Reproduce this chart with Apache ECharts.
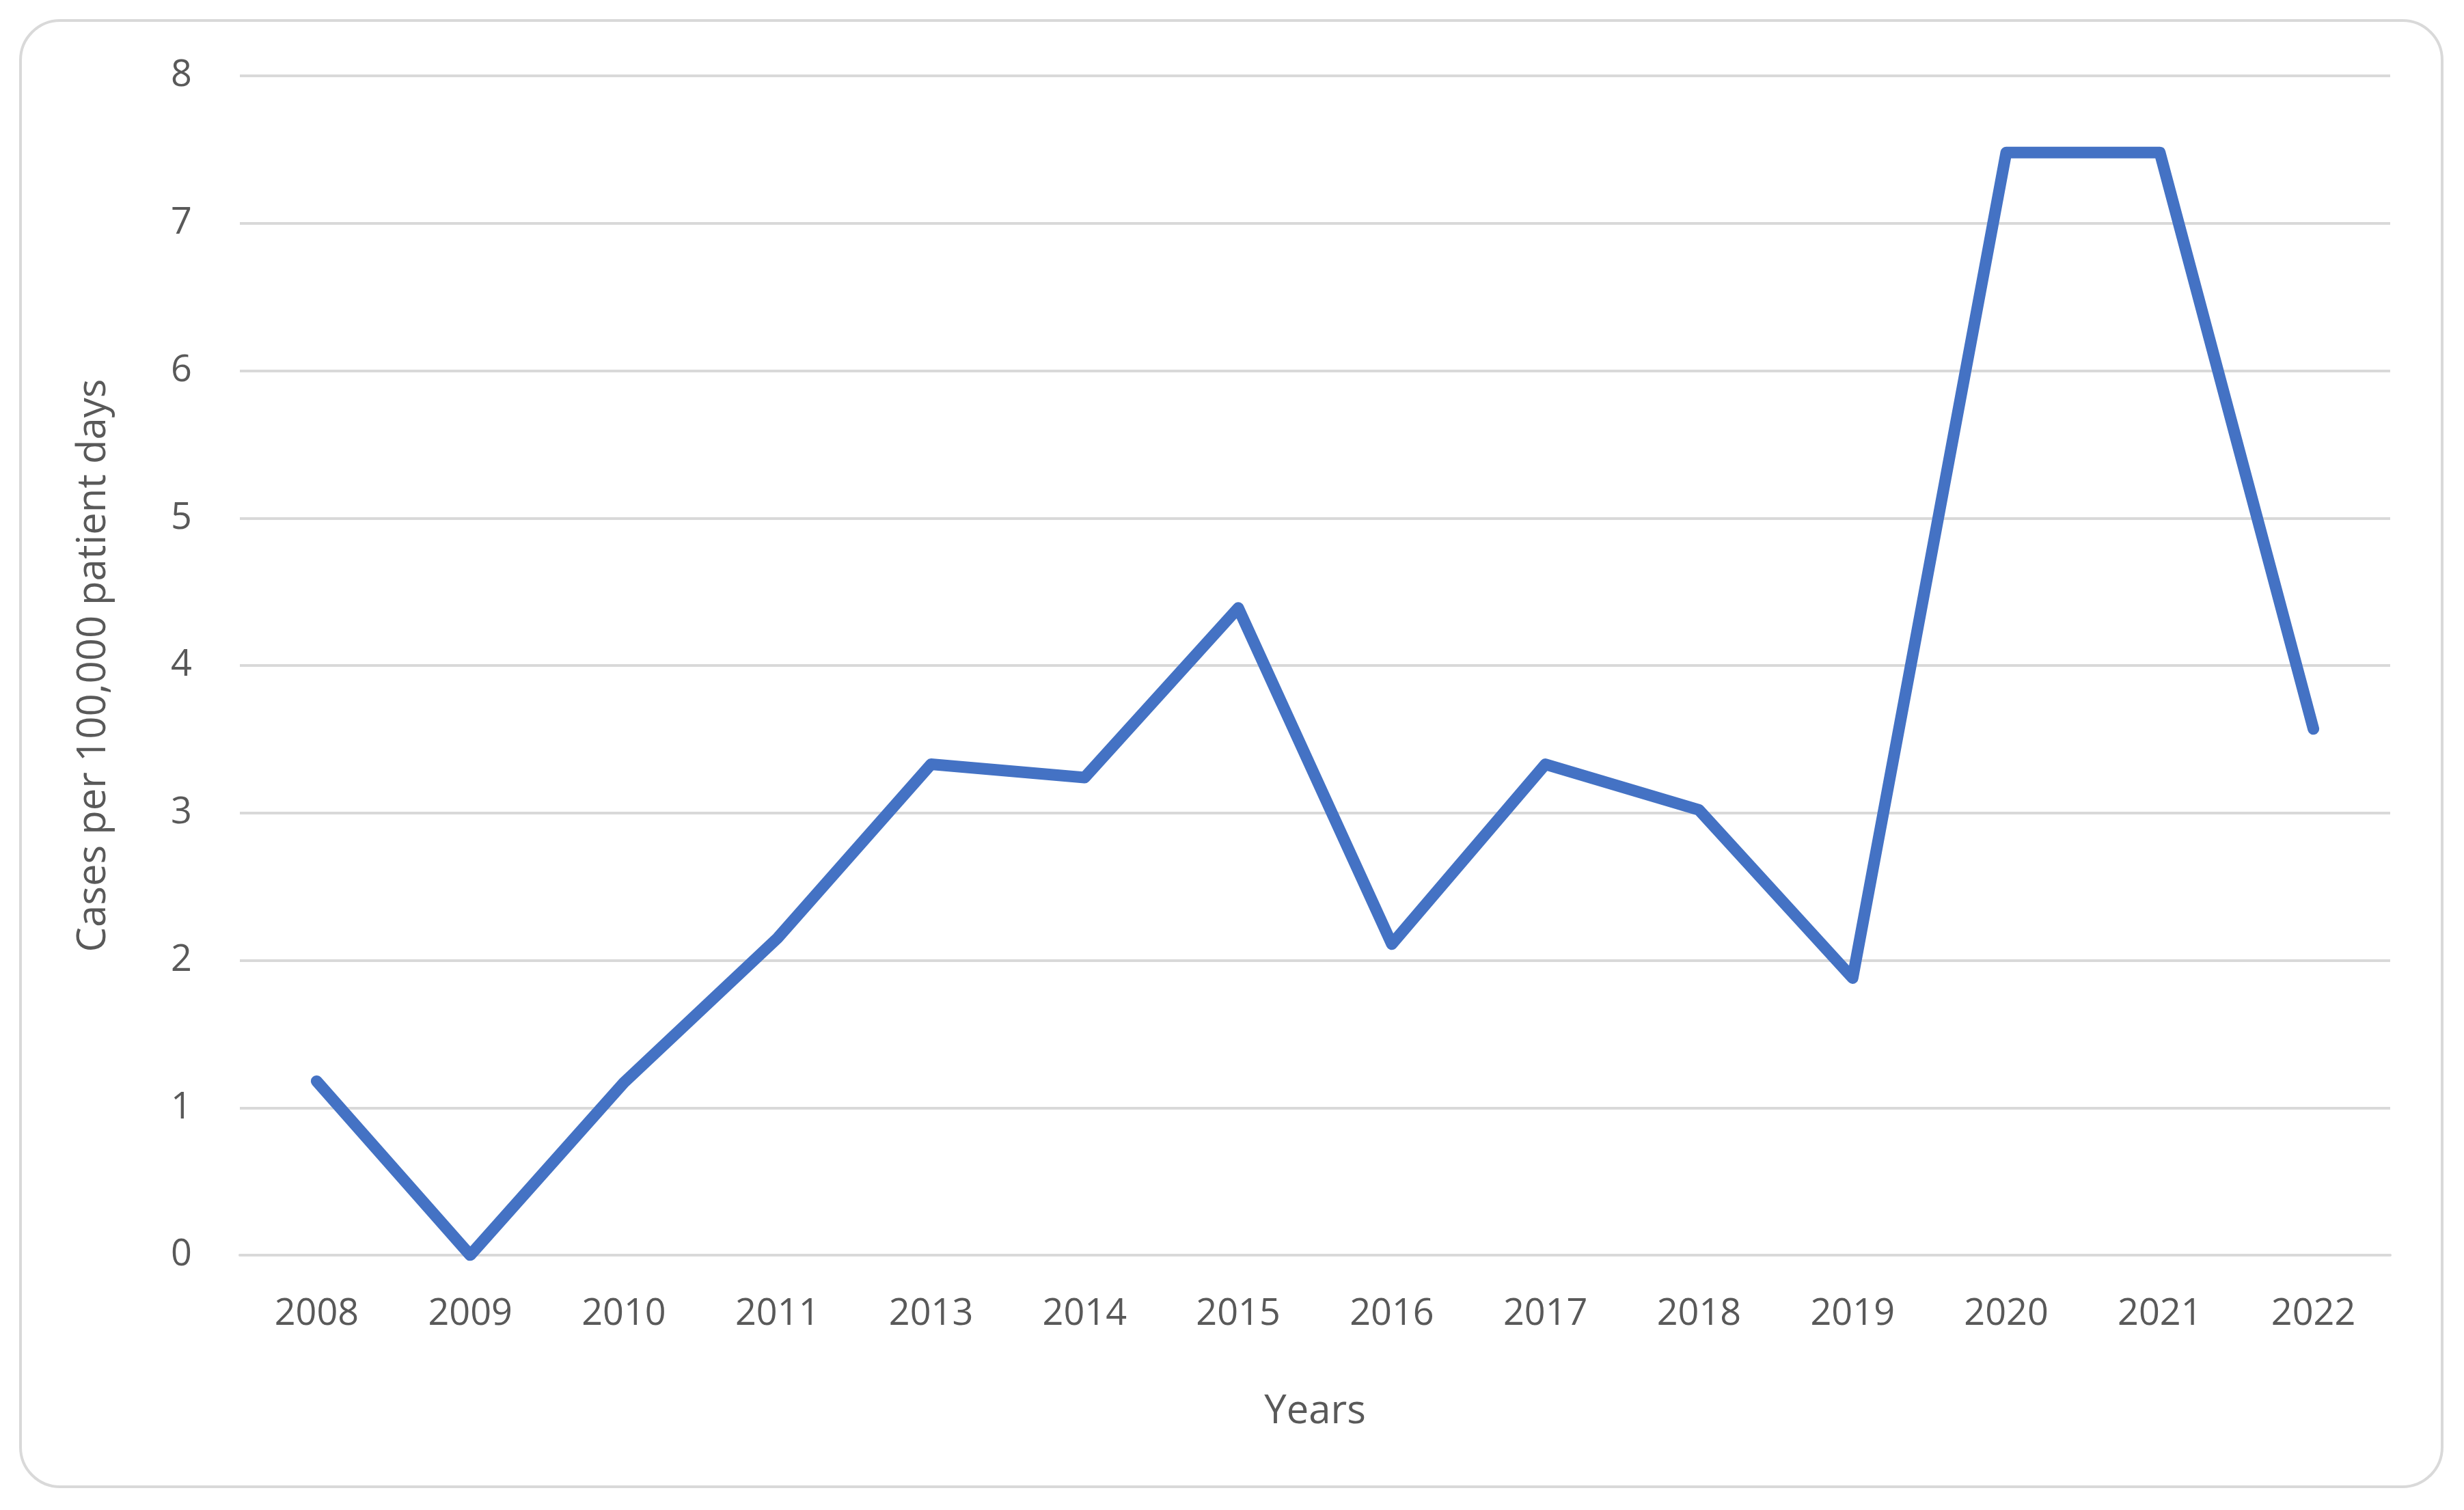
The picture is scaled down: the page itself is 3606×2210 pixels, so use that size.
<!DOCTYPE html>
<html>
<head>
<meta charset="utf-8"/>
<script src="https://cdn.jsdelivr.net/npm/echarts@6/dist/echarts.min.js"></script>
<style>
html,body{margin:0;padding:0;background:#fff;}
#frame{position:absolute;left:28px;top:28px;width:3548px;height:2150px;border:4px solid #d9d9d9;border-radius:60px;box-sizing:border-box;}
#chart{position:absolute;left:0;top:0;width:3606px;height:2210px;}
</style>
</head>
<body>
<div id="frame"></div>
<div id="chart"></div>
<script>
var years = ['2008','2009','2010','2011','2013','2014','2015','2016','2017','2018','2019','2020','2021','2022'];
var cases = [1.18, 0, 1.17, 2.15, 3.33, 3.24, 4.39, 2.11, 3.33, 3.02, 1.88, 7.48, 7.48, 3.57];

var chart = echarts.init(document.getElementById('chart'));
chart.setOption({
    animation: false,
    grid: {left: 351, right: 108, top: 111, bottom: 373},
    xAxis: {
        type: 'category',
        data: years,
        boundaryGap: true,
        name: 'Years',
        nameLocation: 'middle',
        nameGap: 200,
        nameTextStyle: {fontSize: 58, color: '#595959', fontFamily: 'Open Sans'},
        axisLine: {lineStyle: {color: '#d9d9d9', width: 4}},
        axisTick: {show: false},
        axisLabel: {fontSize: 54, color: '#595959', margin: 60, fontFamily: 'Open Sans'}
    },
    yAxis: {
        type: 'value',
        min: 0, max: 8, interval: 1,
        name: 'Cases per 100,000 patient days',
        nameLocation: 'middle',
        nameGap: 185,
        nameTextStyle: {fontSize: 58, color: '#595959', fontFamily: 'Open Sans'},
        axisLine: {show: false},
        axisTick: {show: false},
        splitLine: {lineStyle: {color: '#d9d9d9', width: 4}},
        axisLabel: {fontSize: 54, color: '#595959', margin: 70, fontFamily: 'Open Sans'}
    },
    series: [{
        type: 'line',
        data: cases,
        symbol: 'none',
        lineStyle: {color: '#4472c4', width: 17, cap: 'round', join: 'round'}
    }]
});
</script>
</body>
</html>
